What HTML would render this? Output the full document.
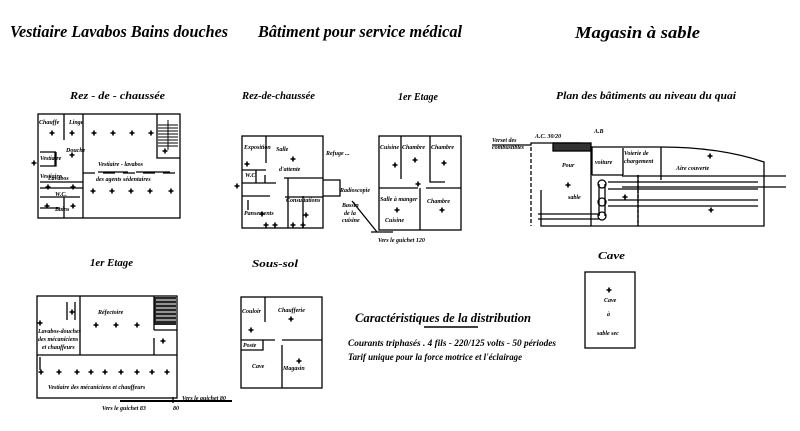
<!DOCTYPE html>
<html><head><meta charset="utf-8"><style>
html,body{margin:0;padding:0;background:#fff;}
svg{display:block;}
text{font-family:"Liberation Serif",serif;font-style:italic;fill:#000;}
.t{font-size:17px;font-weight:bold;}
.s{font-size:10px;font-weight:bold;}
.x{font-size:6px;font-weight:bold;}
</style></head><body>
<svg width="800" height="431" viewBox="0 0 800 431" xmlns="http://www.w3.org/2000/svg">
<defs>
<g id="c"><path d="M-2.5 0H2.5M0 -2.5V2.5" stroke="#000" stroke-width="1.6"/></g>
</defs>
<text class="t" x="10" y="37" textLength="218" lengthAdjust="spacingAndGlyphs">Vestiaire Lavabos Bains douches</text>
<text class="t" x="258" y="37" textLength="204" lengthAdjust="spacingAndGlyphs">Bâtiment pour service médical</text>
<text class="t" x="575" y="38" textLength="125" lengthAdjust="spacingAndGlyphs">Magasin à sable</text>

<text class="s" x="70" y="99" textLength="95" lengthAdjust="spacingAndGlyphs">Rez - de - chaussée</text>
<text class="s" x="242" y="99" textLength="73" lengthAdjust="spacingAndGlyphs">Rez-de-chaussée</text>
<text class="s" x="398" y="100" textLength="40" lengthAdjust="spacingAndGlyphs">1er Etage</text>
<text class="s" x="556" y="99" textLength="180" lengthAdjust="spacingAndGlyphs">Plan des bâtiments au niveau du quai</text>

<g fill="none" stroke="#000" stroke-width="1.3">
<!-- plan 1 -->
<rect x="38" y="114" width="142" height="104"/>
<line x1="83" y1="114" x2="83" y2="218"/>
<path d="M157 114V158H180"/>
<path d="M40 166H56V152M56 152H40M55 166V152M64 114V140M40 182H83M40 188H83M40 197H80M64 197V218M40 208H60"/>
<path d="M83 173H180" stroke-dasharray="12 8"/>
<path d="M98 172H128M136 172H170"/>
<!-- plan 2 -->
<rect x="242" y="136" width="81" height="92"/>
<path d="M266 136V163M242 170H266M256 170V183M242 183H276M265 175V183M288 178V228M284 178H323M323 180H340V196H323M270 196H242M303 196V228M285 197H323M248 200V210"/>
<line x1="352" y1="201" x2="377" y2="232"/>
<path d="M371 232H393"/>
<!-- plan 3 -->
<rect x="379" y="136" width="82" height="94"/>
<path d="M401 136V179M430 136V182H445M379 188H418M426 188H461M420 188V230"/>
<!-- plan 4 -->
<path d="M492 145H531V143H580V147H660Q720 147 764 162V226H541V190"/>
<path d="M531 147V226" stroke-dasharray="4 2"/>
<path d="M591 147V226M592 147V175M623 175H592M623 148V175M661 147V180M591 184V226M638 175V226" />
<path d="M638 175V226" stroke-dasharray="3 2"/>
<path d="M622 176H786M608 182H758M608 189H758M622 187H786M608 200H758M608 206H758M538 214H600M538 219H600"/>
<circle cx="602" cy="184" r="4"/><circle cx="602" cy="202" r="4"/><circle cx="602" cy="216" r="4"/>
<path d="M599 184V216M605 184V216"/>
<rect x="553" y="143" width="38" height="8" fill="#333"/>
<!-- 1er etage bottom -->
<rect x="37" y="296" width="140" height="102"/>
<path d="M80 296V355M37 355H177M67 302V320M75 302V320M154 296V330M154 330H177M154 338V355M40 357V370"/>
<rect x="154" y="297" width="22" height="28" fill="#000" stroke="none" opacity="0.85"/>
<path d="M156 300H176M156 304H176M156 308H176M156 312H176M156 316H176M156 320H176" stroke="#fff" stroke-width="1"/>
<path d="M120 401H232" stroke-width="2"/>
<path d="M173 397V403"/>
<!-- sous-sol -->
<rect x="241" y="297" width="81" height="91"/>
<path d="M265 297V322M241 340H275M282 340H322M282 345V388M241 350H263V340"/>
<!-- cave -->
<rect x="585" y="272" width="50" height="76"/>
<!-- underline -->
<path d="M424 327H478" stroke-width="1.6"/>
</g>
<!-- staircase plan 1 -->
<g stroke="#000" stroke-width="1">
<path d="M158 125H178M158 128H178M158 131H178M158 134H178M158 137H178M158 140H178M158 143H178M158 146H178"/>
<path d="M168 120V150"/>
</g>

<!-- crosses -->
<g>
<use href="#c" x="94" y="133"/><use href="#c" x="113" y="133"/><use href="#c" x="132" y="133"/><use href="#c" x="151" y="133"/>
<use href="#c" x="93" y="191"/><use href="#c" x="112" y="191"/><use href="#c" x="131" y="191"/><use href="#c" x="150" y="191"/><use href="#c" x="171" y="191"/>
<use href="#c" x="165" y="151"/><use href="#c" x="52" y="133"/><use href="#c" x="72" y="133"/><use href="#c" x="72" y="155"/>
<use href="#c" x="47" y="206"/><use href="#c" x="73" y="206"/><use href="#c" x="73" y="187"/><use href="#c" x="48" y="187"/><use href="#c" x="34" y="163"/>
<use href="#c" x="293" y="159"/><use href="#c" x="247" y="164"/><use href="#c" x="306" y="215"/><use href="#c" x="262" y="214"/><use href="#c" x="266" y="225"/><use href="#c" x="275" y="225"/><use href="#c" x="293" y="225"/><use href="#c" x="303" y="225"/><use href="#c" x="237" y="186"/>
<use href="#c" x="395" y="165"/><use href="#c" x="415" y="160"/><use href="#c" x="444" y="163"/><use href="#c" x="397" y="210"/><use href="#c" x="442" y="210"/><use href="#c" x="418" y="184"/>
<use href="#c" x="710" y="156"/><use href="#c" x="625" y="197"/><use href="#c" x="711" y="210"/><use href="#c" x="568" y="185"/>
<use href="#c" x="40" y="323"/><use href="#c" x="96" y="325"/><use href="#c" x="116" y="325"/><use href="#c" x="137" y="325"/><use href="#c" x="72" y="312"/><use href="#c" x="163" y="341"/>
<use href="#c" x="41" y="372"/><use href="#c" x="59" y="372"/><use href="#c" x="77" y="372"/><use href="#c" x="91" y="372"/><use href="#c" x="105" y="372"/><use href="#c" x="121" y="372"/><use href="#c" x="137" y="372"/><use href="#c" x="152" y="372"/><use href="#c" x="167" y="372"/>
<use href="#c" x="291" y="319"/><use href="#c" x="251" y="330"/><use href="#c" x="299" y="361"/>
<use href="#c" x="609" y="290"/>
</g>

<!-- small labels -->
<g class="x">
<text x="39" y="124">Chauffe</text><text x="69" y="124">Linge</text><text x="66" y="152">Douche</text>
<text x="40" y="160">Vestiaire</text><text x="40" y="178">Vestiaire</text><text x="48" y="180">Lavabos</text><text x="55" y="196">W.C.</text><text x="55" y="211">Bains</text>
<text x="98" y="166">Vestiaire - lavabos</text><text x="96" y="181">des agents sédentaires</text>
<text x="244" y="149">Exposition</text><text x="276" y="151">Salle</text><text x="279" y="171">d'attente</text>
<text x="245" y="177">W.C.</text><text x="244" y="215">Pansements</text><text x="286" y="202">Consultations</text>
<text x="326" y="155">Refuge ...</text><text x="340" y="192">Radioscopie</text><text x="342" y="207">Bassin</text><text x="344" y="215">de la</text><text x="342" y="222">cuisine</text><text x="378" y="242">Vers le guichet 120</text>
<text x="380" y="149">Cuisine</text><text x="402" y="149">Chambre</text><text x="431" y="149">Chambre</text><text x="380" y="201">Salle à manger</text><text x="385" y="222">Cuisine</text><text x="427" y="203">Chambre</text>
<text x="492" y="142">Verset des</text><text x="492" y="149">combustibles</text><text x="535" y="138">A.C. 30/20</text><text x="594" y="133">A.B</text>
<text x="562" y="167">Pour</text><text x="568" y="199">sable</text><text x="595" y="164">voiture</text><text x="624" y="155">Voierie de</text><text x="624" y="163">chargement</text><text x="676" y="170">Aire couverte</text>
<text x="98" y="314">Réfectoire</text><text x="38" y="333">Lavabos-douches</text><text x="38" y="341">des mécaniciens</text><text x="42" y="349">et chauffeurs</text>
<text x="48" y="389">Vestiaire des mécaniciens et chauffeurs</text>
<text x="182" y="400">Vers le guichet 80</text><text x="102" y="410">Vers le guichet 83</text><text x="173" y="410">80</text>
<text x="242" y="313">Couloir</text><text x="278" y="312">Chaufferie</text><text x="243" y="347">Poste</text><text x="252" y="368">Cave</text><text x="283" y="370">Magasin</text>
<text x="604" y="302">Cave</text><text x="607" y="316">à</text><text x="597" y="335">sable sec</text>
</g>

<text class="s" x="598" y="259" textLength="27" lengthAdjust="spacingAndGlyphs">Cave</text>
<text class="s" x="90" y="266" textLength="43" lengthAdjust="spacingAndGlyphs">1er Etage</text>
<text class="s" x="252" y="267" textLength="46" lengthAdjust="spacingAndGlyphs">Sous-sol</text>
<text x="355" y="322" style="font-size:13px;font-weight:bold" textLength="176" lengthAdjust="spacingAndGlyphs">Caractéristiques de la distribution</text>
<text x="348" y="346" style="font-size:9px;font-weight:bold" textLength="208" lengthAdjust="spacingAndGlyphs">Courants triphasés . 4 fils - 220/125 volts - 50 périodes</text>
<text x="348" y="360" style="font-size:9px;font-weight:bold" textLength="174" lengthAdjust="spacingAndGlyphs">Tarif unique pour la force motrice et l'éclairage</text>
</svg>
</body></html>
